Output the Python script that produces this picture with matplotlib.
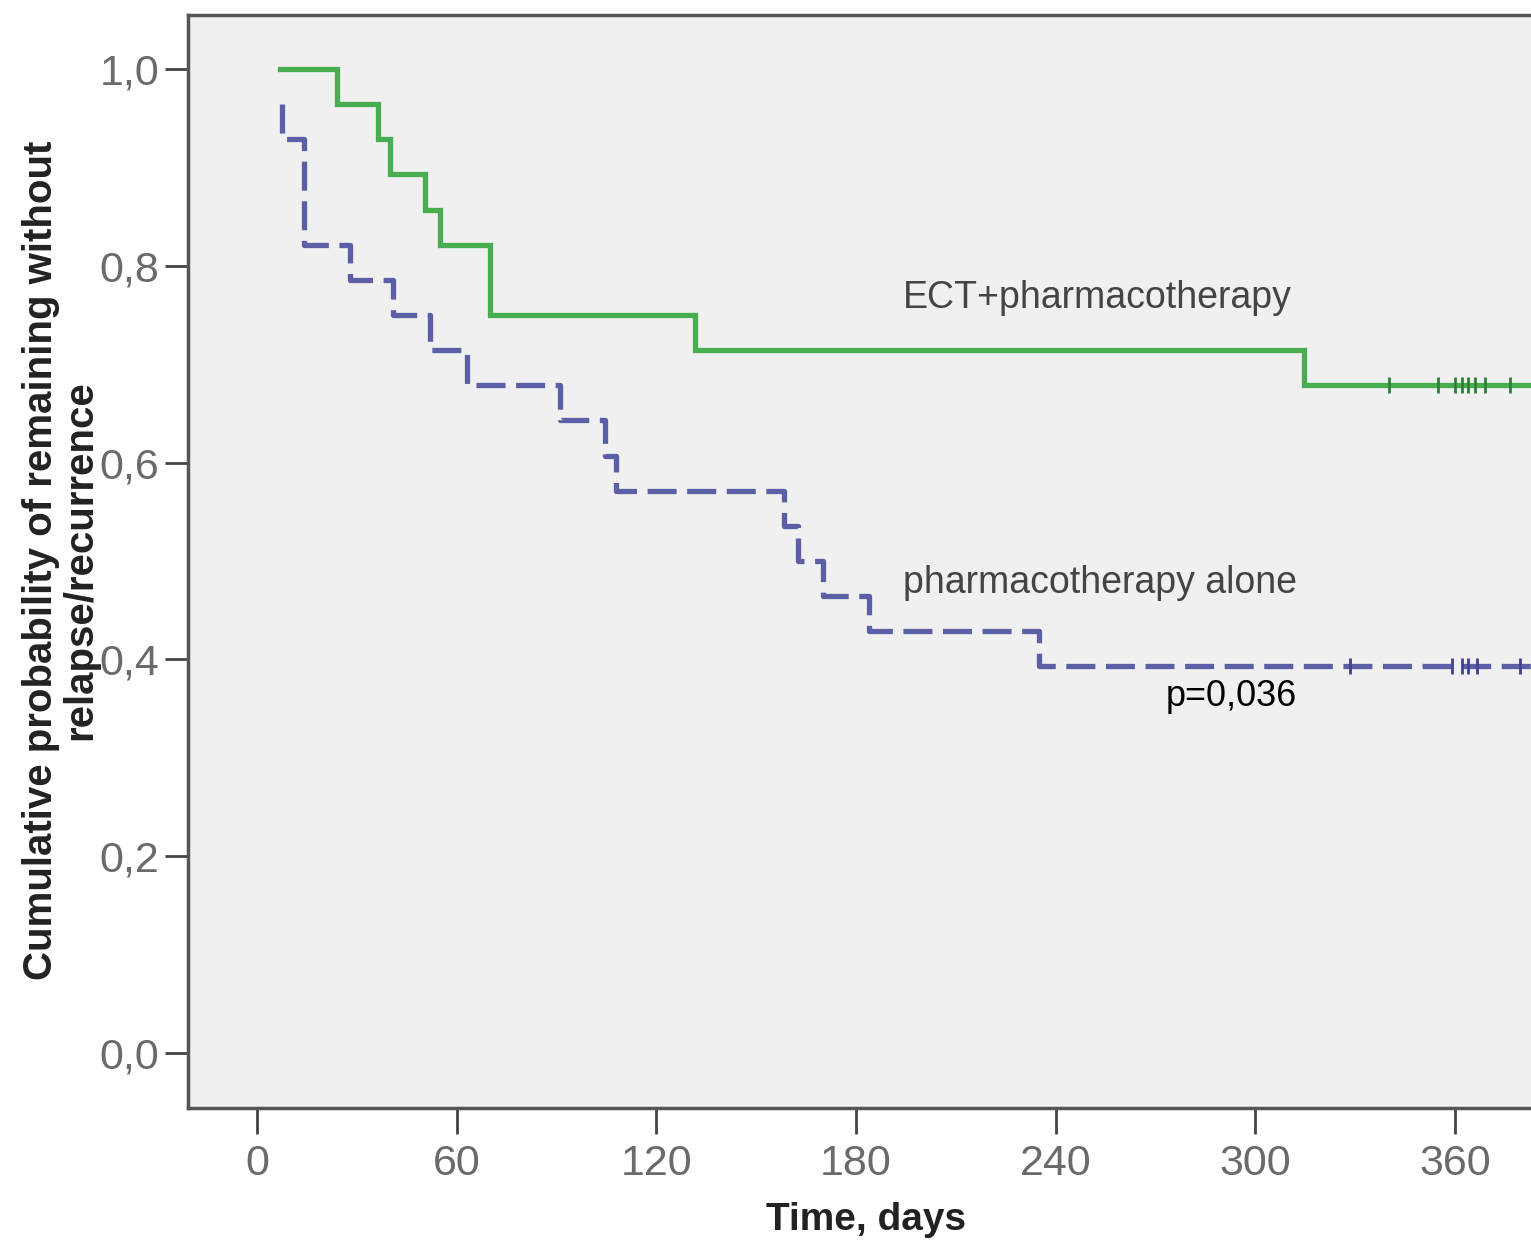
import matplotlib.pyplot as plt

# Kaplan-Meier steps (time in days, survival fraction)
ect_t = [7, 24, 36.5, 40, 50.5, 55, 70, 131.5, 314.5, 383]
ect_s = [1.0, 0.964, 0.929, 0.893, 0.857, 0.821, 0.75, 0.714, 0.679, 0.679]
ect_cens_t = [340, 355, 360, 362, 364, 366, 369, 376.5]

pha_t = [7.5, 7.5, 14.2, 28, 41, 52, 63, 91, 104.5, 108, 158.5, 162.5, 170, 184, 235, 383]
pha_s = [0.964, 0.929, 0.821, 0.786, 0.75, 0.714, 0.679, 0.643, 0.607, 0.571,
         0.536, 0.5, 0.464, 0.429, 0.393, 0.393]
pha_cens_t = [328.5, 359, 362, 364, 366.5, 379.5]

xticks = [0, 60, 120, 180, 240, 300, 360]
yticks = [0.0, 0.2, 0.4, 0.6, 0.8, 1.0]
ytick_labels = ['0,0', '0,2', '0,4', '0,6', '0,8', '1,0']

GREEN = '#47ad50'
BLUE = '#5a5fa6'

plt.rcParams['font.family'] = ['Liberation Sans', 'DejaVu Sans']

fig = plt.figure(figsize=(15.31, 12.43), dpi=100)
ax = fig.add_axes([188 / 1531, 135 / 1243, 1 - 188 / 1531, (1108 - 15) / 1243])
ax.set_facecolor('#f0f0f0')

ax.step(ect_t, ect_s, where='post', color=GREEN, lw=3.8, solid_joinstyle='miter')
ax.step(pha_t, pha_s, where='post', color=BLUE, lw=3.8, dashes=(5.5, 2.0))

# censored cases
ax.plot(ect_cens_t, [ect_s[-1]] * len(ect_cens_t), '|', color='#2f7f38', ms=11, mew=2)
ax.plot(pha_cens_t, [pha_s[-1]] * len(pha_cens_t), '|', color='#3e4290', ms=11, mew=2)

ax.text(194, 0.767, 'ECT+pharmacotherapy', fontsize=27, color='#444444', va='center')
ax.text(194, 0.478, 'pharmacotherapy alone', fontsize=27, color='#444444', va='center')
ax.text(292.7, 0.362, 'p=0,036', fontsize=26, color='black', ha='center', va='center')

ax.set_xlim(-20.7, 382.8)
ax.set_ylim(-0.0559, 1.0549)
ax.set_xticks(xticks)
ax.set_yticks(yticks)
ax.set_yticklabels(ytick_labels)
ax.tick_params(axis='both', labelsize=31, labelcolor='#6a6a6a', color='#444444', width=2)
ax.tick_params(axis='y', length=16.5, pad=4)
ax.tick_params(axis='x', length=19, pad=7)

for side in ['left', 'bottom', 'top']:
    ax.spines[side].set_color('#555555')
    ax.spines[side].set_linewidth(2.5)
ax.spines['right'].set_visible(False)

fig.text(61 / 1531, 1 - 560 / 1243,
         'Cumulative probability of remaining without\nrelapse/recurrence',
         rotation=90, ha='center', va='center', multialignment='center',
         fontsize=29, fontweight='bold', color='#222222', linespacing=1.05)
fig.text(866 / 1531, 1 - 1220 / 1243, 'Time, days', ha='center', va='center',
         fontsize=28, fontweight='bold', color='#222222')

fig.savefig('out.png', dpi=100)
